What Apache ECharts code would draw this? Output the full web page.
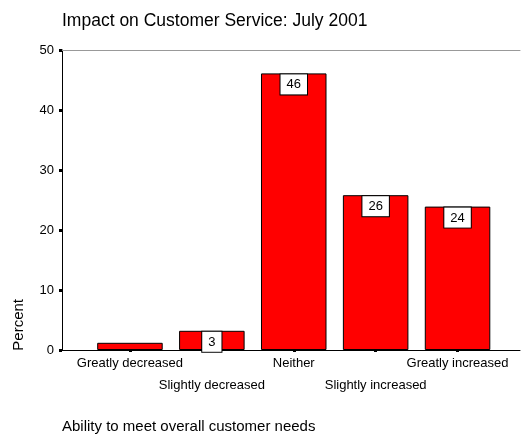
<!DOCTYPE html>
<html><head><meta charset="utf-8">
<script src="https://cdn.jsdelivr.net/npm/echarts@6/dist/echarts.min.js"></script>
<style>html,body{margin:0;padding:0;background:#fff}#c{width:523px;height:434px}</style>
</head><body><div id="c"></div>
<script>
var categories = ['Greatly decreased','Slightly decreased','Neither','Slightly increased','Greatly increased'];
var values = [1.2, 3.2, 46.1, 25.8, 23.9];
var barLabels = ['', '3', '46', '26', '24'];
var yTicks = [0, 10, 20, 30, 40, 50];
var titleText = 'Impact on Customer Service: July 2001';
var xName = 'Ability to meet overall customer needs';
var yName = 'Percent';

var font = 'Arial, "Liberation Sans", sans-serif';
var chart = echarts.init(document.getElementById('c'), null, {renderer:'canvas'});
var barData = values.map(function(v, i){
  return {value: v, label: {show: barLabels[i] !== ''}};
});
chart.setOption({
  animation:false,
  textStyle:{fontFamily:font},
  title:[
    {text:titleText, left:57, top:7, padding:5, textStyle:{fontFamily:font,fontSize:17.5,fontWeight:'normal',color:'#000'}},
    {text:xName, left:57, top:414, padding:5, textStyle:{fontFamily:font,fontSize:15,fontWeight:'normal',color:'#000'}}
  ],
  graphic:[{type:'text', left:11, top:299, rotation:Math.PI/2, style:{text:yName, font:'15px '+font, fill:'#000'}}],
  grid:[
    {left:62, top:50, right:3, height:300},
    {left:89, top:50, right:24.5, height:300}
  ],
  xAxis:[
    {gridIndex:0, type:'value', min:0, max:1, axisLine:{show:true,lineStyle:{color:'#000',width:1}}, axisTick:{show:false}, axisLabel:{show:false}, splitLine:{show:false}},
    {gridIndex:0, type:'value', position:'top', min:0, max:1, axisLine:{show:true,lineStyle:{color:'#999',width:1}}, axisTick:{show:false}, axisLabel:{show:false}, splitLine:{show:false}},
    {gridIndex:1, type:'category', data:categories, axisLine:{show:false},
     axisTick:{show:true, alignWithLabel:true, inside:false, length:2, lineStyle:{color:'#000',width:3}},
     axisLabel:{interval:0, margin:2, fontSize:13, color:'#000', lineHeight:22, verticalAlign:'top',
       formatter:function(v,i){return i%2===1 ? '\n'+v : v;}},
     splitLine:{show:false}}
  ],
  yAxis:[
    {gridIndex:0, type:'value', min:yTicks[0], max:yTicks[yTicks.length-1], interval:10,
     axisLine:{show:true,lineStyle:{color:'#000',width:1}},
     axisTick:{show:true, length:3, lineStyle:{color:'#000',width:3}},
     axisLabel:{fontSize:13,color:'#000',margin:8}, splitLine:{show:false}},
    {gridIndex:1, type:'value', min:0, max:50, show:false, splitLine:{show:false}}
  ],
  series:[{
    type:'bar', xAxisIndex:2, yAxisIndex:1, data:barData, barWidth:'80%',
    itemStyle:{color:'#ff0000', borderColor:'#000', borderWidth:1},
    label:{position:'insideTop', distance:1,
      formatter:function(p){return barLabels[p.dataIndex];},
      fontSize:13, color:'#000', backgroundColor:'#fff', borderColor:'#000', borderWidth:1, padding:[4,6,3,6]}
  }]
});
</script></body></html>
